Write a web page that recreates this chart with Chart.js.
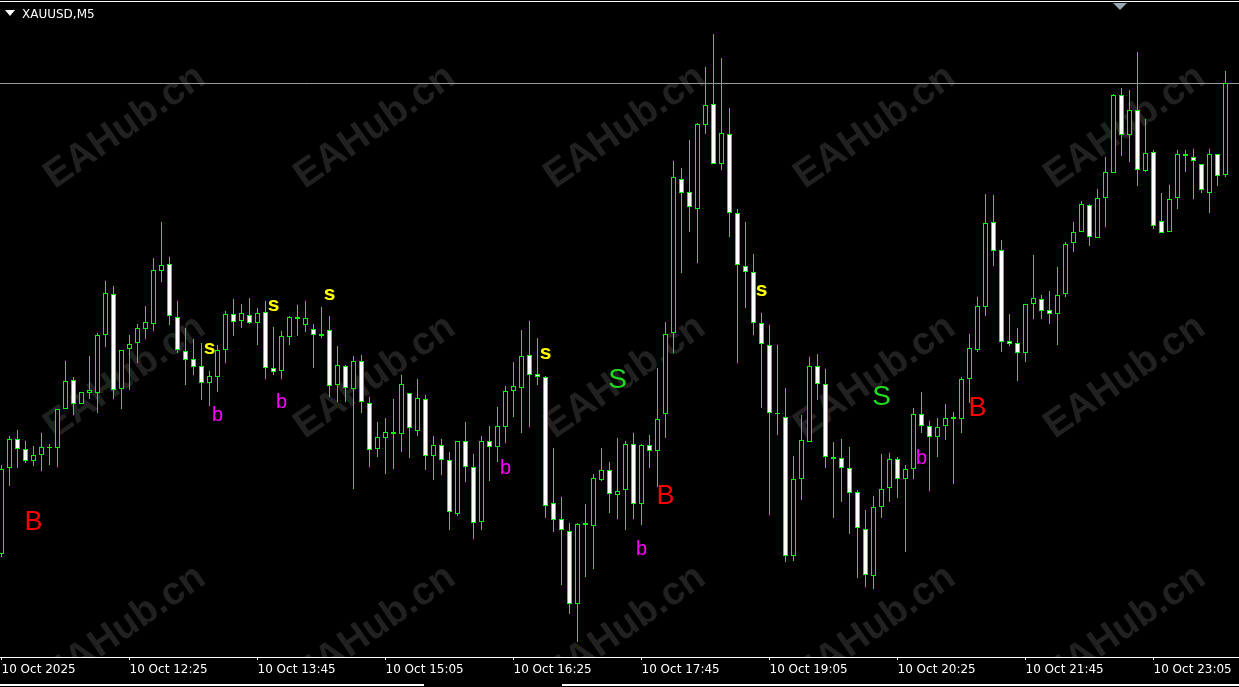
<!DOCTYPE html>
<html>
<head>
<meta charset="utf-8">
<title>XAUUSD,M5</title>
<script src="https://cdn.jsdelivr.net/npm/chart.js@4.4.1/dist/chart.umd.min.js"></script>
<style>
  html, body { margin: 0; padding: 0; background: #000; overflow: hidden; }
  canvas { display: block; }
</style>
</head>
<body>
<canvas id="chart" width="1239" height="687"></canvas>
<script>
// XAUUSD M5, 10 Oct 2025 - one entry per bar
const symbol = 'XAUUSD,M5';

const opens = [
  4004.6, 4013.2, 4016.1, 4015.1, 4013.9, 4014.5, 4015.2, 4015.2, 4019.1, 4022.0,
  4019.6, 4020.7, 4020.7, 4026.5, 4030.6, 4021.1, 4025.1, 4025.7, 4027.1, 4027.6,
  4032.9, 4033.6, 4028.3, 4024.9, 4024.1, 4023.4, 4021.7, 4022.3, 4025.0, 4028.6,
  4027.9, 4028.5, 4027.7, 4028.8, 4023.2, 4022.9, 4026.3, 4028.1, 4027.5, 4027.1,
  4026.6, 4027.0, 4021.5, 4023.4, 4021.1, 4023.9, 4019.7, 4015.1, 4016.2, 4016.6,
  4016.6, 4020.7, 4016.9, 4020.1, 4014.4, 4015.5, 4014.0, 4008.6, 4015.9, 4013.3,
  4007.8, 4015.9, 4015.3, 4017.3, 4020.9, 4021.2, 4024.5, 4022.6, 4022.3, 4009.7,
  4008.1, 4006.9, 3999.6, 4007.7, 4007.4, 4012.0, 4013.0, 4010.5, 4011.0, 4015.6,
  4009.6, 4015.5, 4014.9, 4018.6, 4026.7, 4042.1, 4040.8, 4039.1, 4047.5, 4049.6,
  4043.6, 4046.6, 4038.7, 4033.4, 4032.8, 4027.7, 4025.5, 4018.7, 4018.3, 4004.4,
  4012.1, 4015.8, 4023.4, 4021.6, 4014.1, 4014.2, 4013.2, 4010.8, 4007.1, 4002.4,
  4009.3, 4011.2, 4014.1, 4012.1, 4013.1, 4018.6, 4017.4, 4016.3, 4017.4, 4018.3,
  4018.1, 4022.1, 4025.0, 4029.3, 4037.8, 4035.0, 4025.9, 4025.7, 4024.7, 4029.6,
  4030.1, 4029.0, 4028.6, 4030.6, 4035.7, 4036.8, 4039.5, 4036.2, 4040.2, 4042.7,
  4050.5, 4046.5, 4049.0, 4042.9, 4044.8, 4037.9, 4036.8, 4040.2, 4044.6, 4044.3,
  4043.6, 4040.7, 4044.6, 4042.5
];
const highs = [
  4013.5, 4016.4, 4017.0, 4015.9, 4015.4, 4016.7, 4015.6, 4019.1, 4023.9, 4022.3,
  4020.8, 4024.4, 4026.7, 4031.9, 4031.4, 4025.0, 4026.5, 4027.6, 4029.4, 4034.2,
  4037.8, 4034.3, 4029.9, 4027.2, 4026.1, 4025.7, 4022.9, 4025.5, 4028.9, 4030.1,
  4029.6, 4030.2, 4029.2, 4029.9, 4027.3, 4026.9, 4028.4, 4029.5, 4029.9, 4027.6,
  4029.3, 4028.4, 4025.4, 4023.5, 4024.4, 4024.5, 4020.3, 4017.8, 4018.2, 4020.1,
  4022.5, 4020.7, 4022.1, 4020.5, 4016.4, 4016.1, 4014.8, 4015.9, 4017.8, 4014.6,
  4016.4, 4017.4, 4019.3, 4021.4, 4023.8, 4027.0, 4027.9, 4026.2, 4022.4, 4015.2,
  4010.3, 4007.7, 4007.7, 4009.6, 4012.6, 4015.2, 4013.8, 4016.2, 4015.9, 4016.7,
  4015.6, 4016.5, 4023.2, 4027.8, 4043.9, 4043.2, 4046.0, 4047.7, 4053.3, 4056.6,
  4054.2, 4049.2, 4039.1, 4037.8, 4034.6, 4028.7, 4027.5, 4025.5, 4021.2, 4014.4,
  4018.5, 4024.3, 4024.6, 4023.1, 4015.8, 4016.1, 4015.3, 4011.0, 4009.0, 4010.4,
  4014.6, 4014.7, 4014.3, 4013.5, 4019.2, 4020.8, 4017.9, 4018.2, 4019.6, 4018.8,
  4022.3, 4026.6, 4030.3, 4040.6, 4040.5, 4036.0, 4028.6, 4027.2, 4029.6, 4034.5,
  4030.5, 4030.9, 4033.3, 4035.8, 4037.8, 4039.9, 4039.6, 4041.1, 4044.3, 4050.6,
  4051.2, 4051.0, 4054.8, 4048.1, 4045.0, 4040.7, 4041.5, 4045.0, 4045.0, 4045.1,
  4043.6, 4045.1, 4044.6, 4052.9
];
const lows = [
  4004.3, 4011.4, 4013.2, 4013.7, 4013.4, 4012.9, 4013.5, 4013.3, 4019.1, 4018.5,
  4019.6, 4020.1, 4018.7, 4025.3, 4020.1, 4019.1, 4021.0, 4023.7, 4026.1, 4026.9,
  4031.8, 4027.5, 4024.7, 4021.5, 4022.5, 4020.0, 4019.4, 4020.8, 4023.7, 4026.4,
  4027.2, 4027.6, 4025.5, 4022.1, 4022.5, 4022.1, 4025.5, 4026.4, 4026.8, 4023.2,
  4026.2, 4020.3, 4019.8, 4019.8, 4011.1, 4018.7, 4013.3, 4014.3, 4012.6, 4013.1,
  4014.8, 4014.2, 4016.4, 4013.0, 4012.0, 4012.5, 4007.0, 4008.4, 4011.8, 4006.1,
  4007.0, 4011.9, 4013.8, 4015.7, 4018.3, 4016.7, 4017.3, 4021.5, 4008.2, 4006.8,
  4001.5, 3998.6, 3995.8, 4002.3, 4003.1, 4011.9, 4008.7, 4008.1, 4007.0, 4008.1,
  4007.5, 4013.2, 4011.3, 4016.2, 4024.7, 4032.7, 4036.8, 4033.7, 4046.6, 4043.6,
  4043.0, 4036.3, 4023.7, 4029.2, 4026.5, 4019.2, 4008.5, 4016.5, 4003.8, 4003.9,
  4010.0, 4015.8, 4020.0, 4013.2, 4008.2, 4009.8, 4006.6, 4002.2, 4001.3, 4001.1,
  4008.2, 4009.8, 4010.2, 4004.8, 4012.1, 4016.7, 4010.9, 4014.3, 4016.0, 4011.6,
  4016.7, 4019.7, 4024.8, 4028.4, 4033.4, 4024.8, 4025.4, 4021.9, 4023.8, 4028.1,
  4028.1, 4027.6, 4025.5, 4030.3, 4034.8, 4036.8, 4035.4, 4036.2, 4037.3, 4042.7,
  4044.4, 4043.8, 4041.4, 4042.8, 4037.1, 4036.7, 4036.8, 4039.1, 4042.8, 4040.1,
  4040.7, 4038.7, 4041.4, 4042.3
];
const closes = [
  4013.1, 4016.1, 4015.1, 4013.9, 4014.5, 4015.3, 4015.3, 4019.1, 4021.9, 4019.6,
  4020.8, 4021.0, 4026.5, 4030.7, 4021.0, 4025.0, 4025.6, 4027.2, 4027.8, 4033.0,
  4033.5, 4028.4, 4025.0, 4024.0, 4023.3, 4021.7, 4022.4, 4025.0, 4028.6, 4027.8,
  4028.7, 4027.7, 4028.7, 4023.2, 4022.8, 4026.4, 4028.3, 4028.3, 4028.2, 4026.5,
  4026.4, 4021.4, 4023.5, 4021.2, 4023.9, 4019.8, 4015.0, 4016.3, 4016.8, 4016.8,
  4021.6, 4017.2, 4020.2, 4014.4, 4015.5, 4014.0, 4008.8, 4015.9, 4013.3, 4007.7,
  4015.9, 4015.3, 4017.4, 4020.9, 4021.4, 4024.4, 4022.5, 4022.3, 4009.4, 4008.0,
  4007.0, 3999.6, 4007.6, 4007.5, 4012.2, 4013.0, 4010.6, 4010.9, 4015.6, 4009.6,
  4015.5, 4014.9, 4018.1, 4026.6, 4042.3, 4040.7, 4039.3, 4047.6, 4049.5, 4043.6,
  4046.7, 4038.7, 4033.5, 4032.8, 4027.7, 4025.6, 4018.7, 4018.6, 4004.4, 4012.1,
  4016.0, 4023.4, 4021.6, 4014.3, 4014.3, 4013.2, 4010.7, 4007.2, 4002.5, 4009.3,
  4011.1, 4014.1, 4012.1, 4013.1, 4018.6, 4017.4, 4016.3, 4017.3, 4018.2, 4018.1,
  4022.1, 4025.2, 4029.4, 4037.7, 4034.9, 4025.8, 4025.6, 4024.7, 4029.6, 4030.2,
  4028.9, 4028.6, 4030.5, 4035.6, 4036.8, 4039.6, 4036.3, 4040.2, 4042.8, 4050.5,
  4046.5, 4049.0, 4043.0, 4044.7, 4037.4, 4036.7, 4040.1, 4044.6, 4044.4, 4043.9,
  4041.0, 4044.6, 4042.4, 4051.7
];

// time axis: one label every 16 bars (80 minutes)
const timeLabels = [
  '10 Oct 2025', '10 Oct 12:25', '10 Oct 13:45', '10 Oct 15:05', '10 Oct 16:25',
  '10 Oct 17:45', '10 Oct 19:05', '10 Oct 20:25', '10 Oct 21:45', '10 Oct 23:05'
];
const labelEvery = 16;

// bid line
const bidPrice = 4051.7;

// indicator signals: bar index, price, letter
const signalBars   = [4, 26, 27, 34, 35, 41, 63, 68, 77, 80, 83, 95, 110, 115, 122];
const signalPrices = [4007.7, 4025.2, 4018.5, 4029.5, 4019.8, 4030.6, 4013.2, 4024.7,
                      4022.0, 4005.1, 4010.3, 4031.0, 4020.3, 4014.2, 4019.1];
const signalTexts  = ['B', 's', 'b', 's', 'b', 's', 'b', 's', 'S', 'b', 'B', 's', 'S', 'b', 'B'];

// styles
const wickColor = '#00ff00';
const bullFill = '#000000';
const bearFill = '#ffffff';
const signalStyle = {
  B: { color: '#ff0000', font: '27px "Liberation Sans", Arial, sans-serif' },
  S: { color: '#1edc1e', font: '28px "Liberation Sans", Arial, sans-serif' },
  s: { color: '#ffff00', font: 'bold 21px "Liberation Sans", Arial, sans-serif' },
  b: { color: '#ff00ff', font: '20px "Liberation Sans", Arial, sans-serif' }
};

const backdrop = {
  id: 'backdrop',
  beforeDraw(chart) {
    const { ctx, width, height } = chart;
    ctx.save();
    ctx.fillStyle = '#000';
    ctx.fillRect(0, 0, width, height);
    ctx.restore();
  },
  beforeDatasetsDraw(chart) {
    const { ctx, chartArea: a, scales: { y } } = chart;
    ctx.save();
    ctx.beginPath();
    ctx.rect(a.left, a.top, a.right - a.left, a.bottom - a.top);
    ctx.clip();
    // watermark grid
    ctx.fillStyle = '#212121';
    ctx.font = 'bold 39px "Liberation Sans", Arial, sans-serif';
    ctx.textAlign = 'center';
    ctx.textBaseline = 'middle';
    for (let r = 0; r < 3; r++) {
      for (let c = 0; c < 5; c++) {
        ctx.save();
        ctx.translate(125 + c * 250, 127 + r * 250);
        ctx.rotate(-0.61);
        ctx.fillText('EAHub.cn', 0, 0);
        ctx.restore();
      }
    }
    // bid line
    const by = Math.round(y.getPixelForValue(bidPrice)) + 0.5;
    ctx.strokeStyle = '#9a9a9a';
    ctx.lineWidth = 1;
    ctx.beginPath();
    ctx.moveTo(a.left, by);
    ctx.lineTo(a.right, by);
    ctx.stroke();
    ctx.restore();
  },
  afterDatasetsDraw(chart) {
    const { ctx, scales: { x, y } } = chart;
    ctx.save();
    ctx.textAlign = 'center';
    ctx.textBaseline = 'middle';
    signalBars.forEach((bar, i) => {
      const st = signalStyle[signalTexts[i]];
      ctx.fillStyle = st.color;
      ctx.font = st.font;
      ctx.fillText(signalTexts[i], x.getPixelForValue(bar), y.getPixelForValue(signalPrices[i]));
    });
    ctx.restore();
  },
  afterDraw(chart) {
    const { ctx, width } = chart;
    ctx.save();
    // window frame lines
    ctx.fillStyle = '#ffffff';
    ctx.fillRect(0, 1, width, 1);
    ctx.fillRect(0, 684, 424, 2);
    ctx.fillRect(562, 684, width - 562, 2);
    // symbol caption
    ctx.beginPath();
    ctx.moveTo(5, 10); ctx.lineTo(15, 10); ctx.lineTo(10, 16); ctx.closePath();
    ctx.fill();
    ctx.font = '12px "DejaVu Sans", Verdana, sans-serif';
    ctx.textAlign = 'left';
    ctx.textBaseline = 'middle';
    ctx.fillText(symbol, 22, 15);
    // chart shift marker
    ctx.fillStyle = '#9aa4ae';
    ctx.beginPath();
    ctx.moveTo(1113, 3); ctx.lineTo(1127, 3); ctx.lineTo(1120, 10); ctx.closePath();
    ctx.fill();
    ctx.restore();
  }
};

new Chart(document.getElementById('chart'), {
  type: 'bar',
  data: {
    datasets: [
      {
        label: 'body',
        order: 0,
        grouped: false,
        data: opens.map((o, i) => ({ x: i, y: [o, closes[i]] })),
        backgroundColor: opens.map((o, i) => (closes[i] < o ? bearFill : bullFill)),
        borderColor: wickColor,
        borderWidth: 1,
        borderSkipped: false,
        inflateAmount: 0,
        maxBarThickness: 5
      },
      {
        label: 'wick',
        order: 1,
        grouped: false,
        data: lows.map((l, i) => ({ x: i, y: [l, highs[i]] })),
        backgroundColor: wickColor,
        borderWidth: 0,
        inflateAmount: 0,
        maxBarThickness: 1
      }
    ]
  },
  options: {
    responsive: false,
    animation: false,
    devicePixelRatio: 1,
    layout: { padding: 0 },
    plugins: { legend: { display: false }, tooltip: { enabled: false } },
    scales: {
      x: {
        type: 'linear',
        offset: false,
        min: -0.1875,
        max: -0.1875 + 1239 / 8,
        afterBuildTicks: (axis) => { axis.ticks = timeLabels.map((_, i) => ({ value: i * labelEvery })); },
        afterFit: (axis) => { axis.height = 30; axis.paddingLeft = 0; axis.paddingRight = 0; },
        grid: { offset: false, drawOnChartArea: false, drawTicks: true, tickLength: 3, color: '#ffffff' },
        border: { display: true, color: '#ffffff' },
        ticks: {
          align: 'start',
          autoSkip: false,
          maxRotation: 0,
          padding: 3,
          color: '#ffffff',
          font: { family: '"DejaVu Sans", Verdana, sans-serif', size: 12 },
          callback: (v) => timeLabels[Math.round(v / labelEvery)] ?? ''
        }
      },
      y: {
        display: false,
        min: 3994.3,
        max: 4060.0
      }
    }
  },
  plugins: [backdrop]
});
</script>
</body>
</html>
